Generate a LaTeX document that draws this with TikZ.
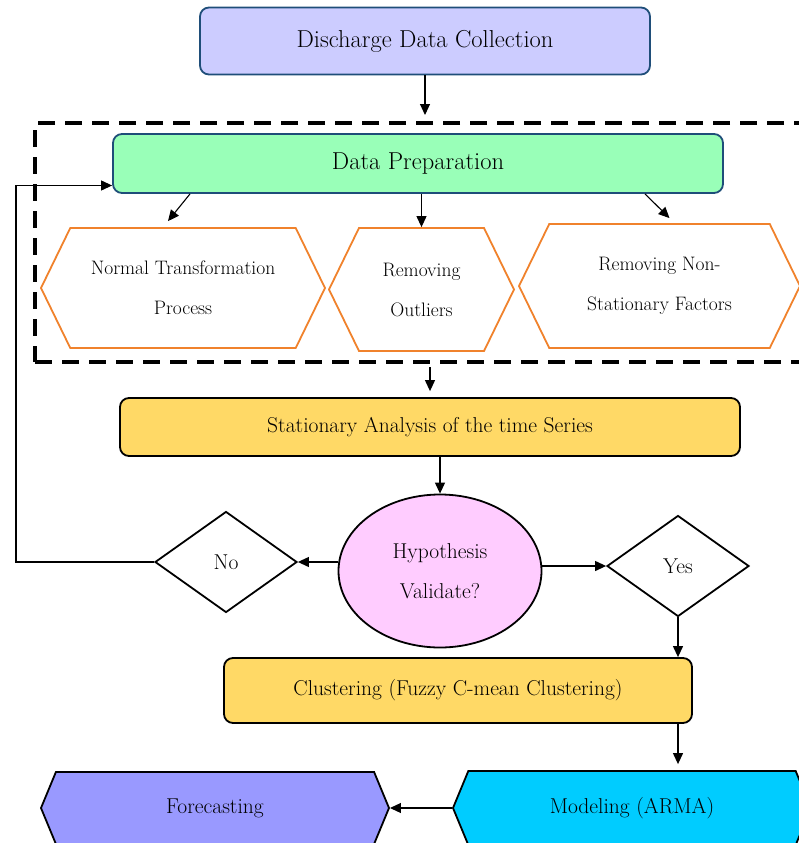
\documentclass[tikz,border=0pt]{standalone}
\usepackage{tikz}
\usetikzlibrary{calc}
\usetikzlibrary{positioning}
\usetikzlibrary{shapes.geometric}
\usetikzlibrary{shapes.symbols}
\usetikzlibrary{arrows.meta}
\usepackage{xcolor}
\definecolor{lav}{HTML}{CCCCFF}
\definecolor{navy}{HTML}{1F4E79}
\definecolor{mint}{HTML}{99FFB8}
\definecolor{orng}{HTML}{F0822C}
\definecolor{gold}{HTML}{FFD966}
\definecolor{pink}{HTML}{FFCCFF}
\definecolor{cyanb}{HTML}{00CCFF}
\definecolor{peri}{HTML}{9999FF}

\begin{document}
\begin{tikzpicture}[
		x=1pt, y=-1pt,
		big/.style = {font=\fontsize{24.5}{28}\selectfont},
		mid/.style = {font=\fontsize{21.5}{40}\selectfont},
		sml/.style = {font=\fontsize{19.5}{40}\selectfont},
		bb/.style  = {rectangle, rounded corners=9pt, draw=navy, line width=1.8pt, inner sep=0, big},
		yb/.style  = {rectangle, rounded corners=9pt, draw=black, line width=1.8pt, fill=gold, inner sep=0, mid},
		hx/.style  = {signal, signal to=west and east, signal pointer angle=128, draw=orng, line width=1.8pt, fill=white, inner sep=0, align=center, sml},
		hb/.style  = {signal, signal to=west and east, signal pointer angle=135, draw=black, line width=1.8pt, inner sep=0, mid},
		dm/.style  = {diamond, draw=black, line width=1.8pt, fill=white, inner sep=0, mid},
		r/.style   = {-{Triangle[length=11pt,width=10pt]}, line width=1.1pt}
		]
		
		\useasboundingbox (0,0) rectangle (798,843);
		
		% === === Nodes === ===
		\node[bb, fill=lav, minimum width=450, minimum height=67]	(collect)	at	(425,41)	{Discharge Data Collection};
		\node[draw, dash pattern=on 17pt off 10pt, line width=4pt, minimum width=795, minimum height=239, inner sep=0]	(frame)	at	(432.5,242.5)	{};
		\node[bb, fill=mint, minimum width=610, minimum height=59]	(prep)	at	(418,163.5)	{Data Preparation};
		\node[hx, minimum width=284, minimum height=120]	(normal)	at	(183,288)	{Normal Transformation\\Process};
		\node[hx, minimum width=185, minimum height=123]	(outlier)	at	(421.5,289.5)	{Removing\\Outliers};
		\node[hx, minimum width=281, minimum height=124]	(nonstat)	at	(659.5,286)	{Removing Non-\\Stationary Factors};
		\node[yb, minimum width=620, minimum height=58]	(station)	at	(430,427)	{Stationary Analysis of the time Series};
		\node[ellipse, draw=black, line width=1.8pt, fill=pink, minimum width=203, minimum height=153, inner sep=0, align=center, mid]	(hypo)	at	(440,571)	{Hypothesis\\Validate?};
		\node[dm, minimum width=142, minimum height=101]	(no)	at	(226,562)	{No};
		\node[dm, minimum width=142, minimum height=101]	(yes)	at	(678,566)	{Yes};
		\node[yb, minimum width=468, minimum height=65]	(cluster)	at	(458,690.5)	{Clustering (Fuzzy C-mean Clustering)};
		\node[hb, fill=cyanb, minimum width=358, minimum height=74]	(model)	at	(632,808)	{Modeling (ARMA)};
		\node[hb, fill=peri, minimum width=348, minimum height=72]	(fore)	at	(215,808)	{Forecasting};
		\coordinate	(loop)	at	(16,562);
		
		
		% === === Lines === ===
		\draw[r, shorten >=6pt]	(collect.south)	to	(collect.south |- frame.north);
		\draw[r]	([xshift=-228pt]prep.south)	to	([xshift=-15pt,yshift=6pt]normal.north);
		\draw[r]	(prep.south -| outlier.north)	to	(outlier.north);
		\draw[r]	([xshift=227pt]prep.south)	to	([xshift=10pt,yshift=5pt]nonstat.north);
		\draw[r, shorten <=3pt, shorten >=6pt]	(station.north |- frame.south)	to	(station.north);
		\draw[r]	(hypo.north |- station.south)	to	(hypo.north);
		\draw[r]	(no.east -| hypo.west)	to	(no.east);
		\draw[r]	(yes.west -| hypo.east)	to	(yes.west);
		\draw[r]	(no.west)	--	(loop)	|-	([yshift=-22pt]prep.west);
		\draw[r]	(yes.south)	to	(yes.south |- cluster.north);
		\draw[r, shorten >=6pt]	(yes.south |- cluster.south)	to	(yes.south |- model.north);
		\draw[r]	(model.west)	to	(fore.east);
		
		
	\end{tikzpicture}
\end{document}
